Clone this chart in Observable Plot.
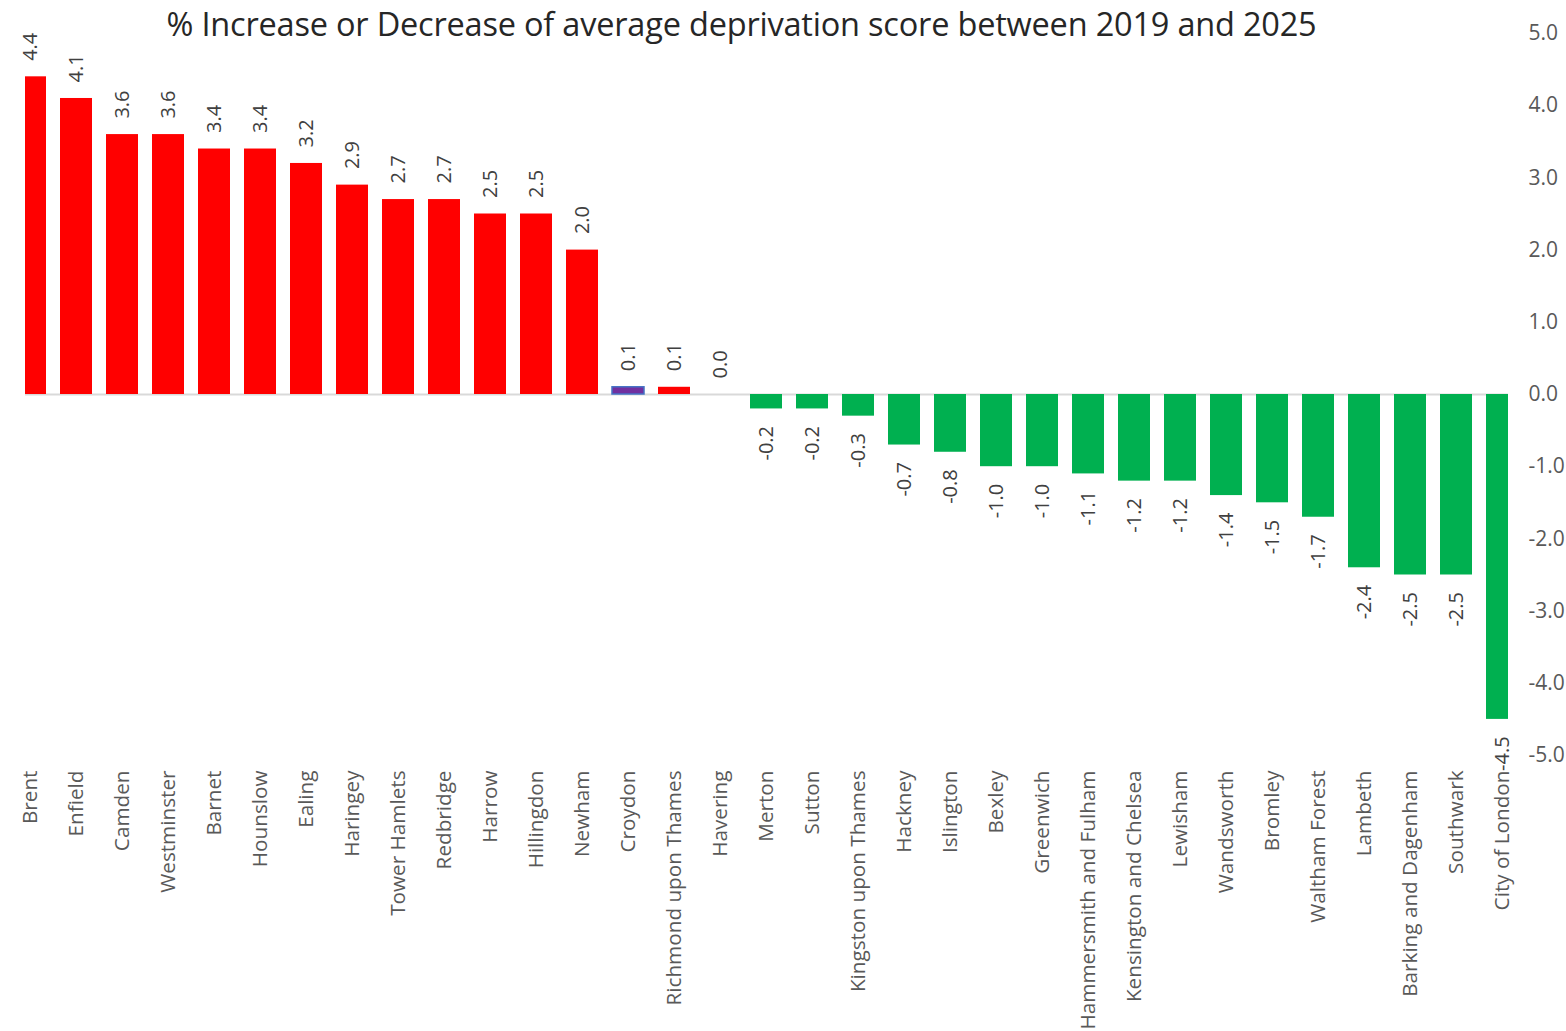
<!DOCTYPE html>
<html>
<head>
<meta charset="utf-8">
<script src="https://cdn.jsdelivr.net/npm/d3@7"></script>
<script src="https://cdn.jsdelivr.net/npm/@observablehq/plot@0.6"></script>
<style>
  body { margin: 0; background: #fff; }
  #wrap { position: relative; width: 1566px; height: 1031px; font-family: "Open Sans", sans-serif; }
  #title { position: absolute; left: 0; width: 1483px; top: 1px; text-align: center; font-size: 32.5px; color: #262626; white-space: nowrap; letter-spacing: -0.2px; }
</style>
</head>
<body>
<div id="wrap">
  <div id="title">% Increase or Decrease of average deprivation score between 2019 and 2025</div>
</div>
<script>
const boroughs = ["Brent","Enfield","Camden","Westminster","Barnet","Hounslow","Ealing","Haringey","Tower Hamlets","Redbridge","Harrow","Hillingdon","Newham","Croydon","Richmond upon Thames","Havering","Merton","Sutton","Kingston upon Thames","Hackney","Islington","Bexley","Greenwich","Hammersmith and Fulham","Kensington and Chelsea","Lewisham","Wandsworth","Bromley","Waltham Forest","Lambeth","Barking and Dagenham","Southwark","City of London"];
const changes = [4.4,4.1,3.6,3.6,3.4,3.4,3.2,2.9,2.7,2.7,2.5,2.5,2.0,0.1,0.1,0.0,-0.2,-0.2,-0.3,-0.7,-0.8,-1.0,-1.0,-1.1,-1.2,-1.2,-1.4,-1.5,-1.7,-2.4,-2.5,-2.5,-4.5];
const yTicks = [-5,-4,-3,-2,-1,0,1,2,3,4,5];
const highlighted = "Croydon";

const data = boroughs.map((b, i) => ({borough: b, value: changes[i]}));
const fillFor = d => d.borough === highlighted ? "#7030A0" : (d.value >= 0 ? "#FF0000" : "#00B050");
const strokeFor = d => d.borough === highlighted ? "#4472C4" : "none";
const fmt = v => v.toFixed(1);

const chart = Plot.plot({
  width: 1566,
  height: 1031,
  marginTop: 33,
  marginBottom: 276,
  marginLeft: 25,
  marginRight: 58,
  style: {fontFamily: "'Open Sans', sans-serif", background: "transparent"},
  x: {domain: boroughs, range: [2.9, 1528.6], paddingInner: 0.3, paddingOuter: 0.15},
  y: {domain: [-5, 5]},
  marks: [
    Plot.ruleY([0], {stroke: "#d9d9d9", strokeWidth: 2}),
    Plot.barY(data, {x: "borough", y: "value", fill: fillFor, stroke: strokeFor, strokeWidth: 1.5, clip: "frame"}),
    Plot.text(data.filter(d => d.value >= 0), {x: "borough", y: "value", text: d => fmt(d.value), rotate: -90, textAnchor: "start", dy: -16, fontSize: 20, fill: "#404040"}),
    Plot.text(data.filter(d => d.value < 0), {x: "borough", y: "value", text: d => fmt(d.value), rotate: -90, textAnchor: "end", dy: 17, fontSize: 20, fill: "#404040"}),
    Plot.axisX({tickRotate: -90, tickSize: 0, tickPadding: 15, fontSize: 20.7, fill: "#595959", label: null}),
    Plot.axisY({anchor: "right", ticks: yTicks, tickFormat: fmt, tickSize: 0, tickPadding: 20, fontSize: 21, fill: "#595959", label: null})
  ]
});
document.getElementById("wrap").appendChild(chart);
chart.style.position = "absolute";
chart.style.left = "0";
chart.style.top = "0";
</script>
</body>
</html>
